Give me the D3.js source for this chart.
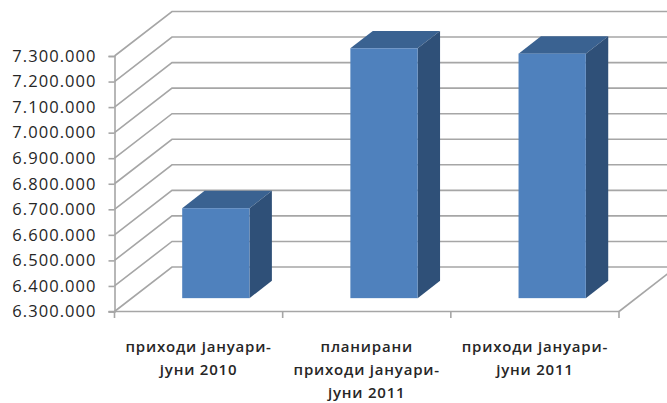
<!DOCTYPE html>
<html>
<head>
<meta charset="utf-8">
<script src="https://cdn.jsdelivr.net/npm/d3@7"></script>
<style>
  html, body { margin: 0; padding: 0; background: #fff; }
  svg { display: block; }
  text { font-family: "Open Sans", sans-serif; fill: #262626; }
</style>
</head>
<body>
<div id="chart"></div>
<script>
var categories = ["приходи јануари-јуни 2010", "планирани приходи јануари-јуни 2011", "приходи јануари-јуни 2011"];
var categoryLines = [
    ["приходи јануари-", "јуни 2010"],
    ["планирани", "приходи јануари-", "јуни 2011"],
    ["приходи јануари-", "јуни 2011"]
];
var values = [6652000, 7278000, 7257000];
var yTicks = [6300000, 6400000, 6500000, 6600000, 6700000, 6800000, 6900000, 7000000, 7100000, 7200000, 7300000];

var width = 667, height = 403;
var margin = {top: 56, right: 48, bottom: 91.5, left: 114.5};
var plotW = width - margin.left - margin.right,
    plotH = height - margin.top - margin.bottom;

// 3d offset of the back wall, and how far the bars sit in it
var depthX = 57.5, depthY = 44.5;
var barFront = 0.30, barDepth = 0.39;

var locale = d3.formatLocale({decimal: ",", thousands: ".", grouping: [3], currency: ["", ""]});
var fmt = locale.format(",d");

var x = d3.scaleBand().domain(categories).range([0, plotW]).paddingInner(0.6).paddingOuter(0.3);
var y = d3.scaleLinear().domain([6300000, 7300000]).range([plotH, 0]);

var svg = d3.select("#chart").append("svg")
    .attr("width", width)
    .attr("height", height)
  .append("g")
    .attr("transform", "translate(" + margin.left + "," + margin.top + ")");

var gridColor = "#a6a6a6";

// walls: diagonal + back line for each tick
var grid = svg.append("g").attr("fill", "none").attr("stroke", gridColor).attr("stroke-width", 1.6);
grid.selectAll("path.wall")
    .data(yTicks)
    .enter()
    .append("path")
    .attr("class", "wall")
    .attr("d", function(d) {
        return "M0," + y(d) + "L" + depthX + "," + (y(d) - depthY) + "H" + (plotW + depthX);
    });
// floor right edge
grid.append("path")
    .attr("d", "M" + plotW + "," + plotH + "L" + (plotW + depthX) + "," + (plotH - depthY));

// bars
var bars = svg.append("g").selectAll("g")
    .data(values)
    .enter()
    .append("g")
    .attr("transform", function(d, i) {
        return "translate(" + (x(categories[i]) + barFront * depthX) + "," + (-barFront * depthY) + ")";
    });

var dx = barDepth * depthX, dy = barDepth * depthY, bw = x.bandwidth();

bars.append("path")
    .attr("fill", "#3a6291")
    .attr("d", function(d) {
        return "M0," + y(d) + "l" + dx + "," + (-dy) + "h" + bw + "l" + (-dx) + "," + dy + "z";
    });
bars.append("path")
    .attr("fill", "#2f5078")
    .attr("d", function(d) {
        return "M" + bw + "," + y(d) + "l" + dx + "," + (-dy) + "V" + (plotH - dy) + "l" + (-dx) + "," + dy + "z";
    });
bars.append("rect")
    .attr("fill", "#4f81bd")
    .attr("x", 0)
    .attr("y", function(d) { return y(d); })
    .attr("width", bw)
    .attr("height", function(d) { return plotH - y(d); });

// y axis
var yAxis = svg.append("g")
    .call(d3.axisLeft(y).tickValues(yTicks).tickFormat(fmt).tickSize(6).tickPadding(12));
yAxis.selectAll("path, line").attr("stroke", gridColor).attr("stroke-width", 1.6);
yAxis.selectAll("text")
    .attr("font-size", 16.5)
    .attr("font-family", "'Open Sans', sans-serif")
    .attr("font-weight", 500)
    .attr("letter-spacing", 1.05)
    .attr("fill", "#1f1f1f");

// x axis, ticks on the band edges
var edges = d3.range(categories.length + 1).map(function(i) { return i * plotW / categories.length; });
var xAxis = svg.append("g").attr("stroke", gridColor).attr("stroke-width", 1.6);
xAxis.append("line").attr("x1", -6).attr("x2", plotW).attr("y1", plotH).attr("y2", plotH);
xAxis.selectAll("line.tick")
    .data(edges)
    .enter()
    .append("line")
    .attr("class", "tick")
    .attr("x1", function(d) { return d; })
    .attr("x2", function(d) { return d; })
    .attr("y1", plotH)
    .attr("y2", plotH + 6.5);

// category labels
var labels = svg.append("g").selectAll("text")
    .data(categoryLines)
    .enter()
    .append("text")
    .attr("text-anchor", "middle")
    .attr("font-size", 15)
    .attr("font-weight", 600)
    .attr("letter-spacing", 0.8)
    .attr("transform", function(d, i) {
        return "translate(" + (x(categories[i]) + bw / 2) + "," + (plotH + 40.5) + ")";
    });
labels.selectAll("tspan")
    .data(function(d) { return d; })
    .enter()
    .append("tspan")
    .attr("x", 0)
    .attr("y", function(d, i) { return i * 23; })
    .text(function(d) { return d; });
</script>
</body>
</html>
